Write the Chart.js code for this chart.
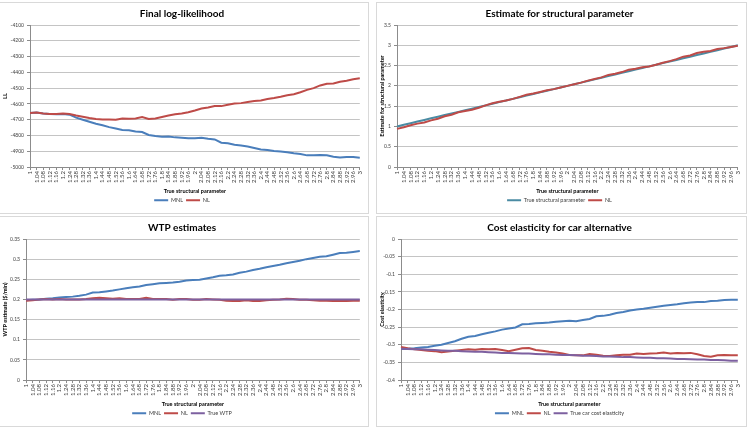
<!DOCTYPE html>
<html>
<head>
<meta charset="utf-8">
<script src="https://cdn.jsdelivr.net/npm/chart.js@4.4.1/dist/chart.umd.min.js"></script>
<style>
  body { margin: 0; background: #fff; width: 750px; height: 427px; overflow: hidden; position: relative; }
  .panel { position: absolute; border: 1px solid #d9d9d9; background: #fff; }
  .panel canvas { display: block; }
</style>
</head>
<body>
<div class="panel" style="left:-1px; top:2px; width:368px; height:210px;"><canvas id="cLL" width="368" height="210"></canvas></div>
<div class="panel" style="left:376px; top:2px; width:369px; height:210px;"><canvas id="cEst" width="369" height="210"></canvas></div>
<div class="panel" style="left:-1px; top:216px; width:368px; height:209px;"><canvas id="cWtp" width="368" height="209"></canvas></div>
<div class="panel" style="left:376px; top:216px; width:369px; height:209px;"><canvas id="cEl" width="369" height="209"></canvas></div>
<script>
// Categorias del eje x (parametro estructural verdadero)
const cats = ["1", "1.04", "1.08", "1.12", "1.16", "1.2", "1.24", "1.28", "1.32", "1.36",
  "1.4", "1.44", "1.48", "1.52", "1.56", "1.6", "1.64", "1.68", "1.72", "1.76",
  "1.8", "1.84", "1.88", "1.92", "1.96", "2", "2.04", "2.08", "2.12", "2.16",
  "2.2", "2.24", "2.28", "2.32", "2.36", "2.4", "2.44", "2.48", "2.52", "2.56",
  "2.6", "2.64", "2.68", "2.72", "2.76", "2.8", "2.84", "2.88", "2.92", "2.96", "3"];

// Final log-likelihood
const llMNL = [-4657, -4655, -4661, -4664, -4666, -4664, -4668, -4687, -4700, -4713,
  -4726, -4735, -4747, -4756, -4765, -4767, -4775, -4778, -4797, -4803,
  -4808, -4806, -4812, -4814, -4818, -4818, -4814, -4821, -4825, -4846,
  -4849, -4859, -4864, -4870, -4879, -4889, -4892, -4898, -4902, -4907,
  -4913, -4917, -4926, -4926, -4924, -4926, -4935, -4939, -4937, -4937, -4941];
const llNL = [-4657, -4655, -4661, -4664, -4664, -4661, -4664, -4674, -4681, -4689,
  -4696, -4698, -4698, -4700, -4692, -4694, -4692, -4683, -4696, -4692,
  -4683, -4674, -4666, -4661, -4653, -4642, -4629, -4623, -4614, -4614,
  -4605, -4597, -4595, -4588, -4582, -4578, -4569, -4562, -4554, -4545,
  -4539, -4526, -4511, -4500, -4483, -4472, -4470, -4459, -4453, -4444, -4438];

// Estimate for structural parameter
const estTrue = [1, 1.04, 1.08, 1.12, 1.16, 1.2, 1.24, 1.28, 1.32, 1.36,
  1.4, 1.44, 1.48, 1.52, 1.56, 1.6, 1.64, 1.68, 1.72, 1.76,
  1.8, 1.84, 1.88, 1.92, 1.96, 2, 2.04, 2.08, 2.12, 2.16,
  2.2, 2.24, 2.28, 2.32, 2.36, 2.4, 2.44, 2.48, 2.52, 2.56,
  2.6, 2.64, 2.68, 2.72, 2.76, 2.8, 2.84, 2.88, 2.92, 2.96, 3];
const estNL = [0.94, 0.98, 1.03, 1.07, 1.10, 1.15, 1.19, 1.25, 1.29, 1.35,
  1.38, 1.41, 1.46, 1.52, 1.57, 1.61, 1.64, 1.68, 1.73, 1.78,
  1.81, 1.85, 1.89, 1.92, 1.96, 2.00, 2.04, 2.08, 2.13, 2.17,
  2.21, 2.27, 2.30, 2.34, 2.40, 2.42, 2.46, 2.48, 2.52, 2.57,
  2.61, 2.66, 2.72, 2.75, 2.81, 2.84, 2.86, 2.91, 2.93, 2.96, 2.99];

// WTP estimates
const wtpMNL = [0.198, 0.199, 0.200, 0.202, 0.203, 0.205, 0.206, 0.207, 0.209, 0.212,
  0.217, 0.218, 0.220, 0.222, 0.225, 0.228, 0.230, 0.232, 0.236, 0.238,
  0.240, 0.241, 0.242, 0.244, 0.247, 0.248, 0.249, 0.252, 0.255, 0.259,
  0.260, 0.262, 0.266, 0.269, 0.273, 0.276, 0.280, 0.283, 0.286, 0.290,
  0.293, 0.296, 0.300, 0.303, 0.306, 0.307, 0.311, 0.315, 0.316, 0.318, 0.320];
const wtpNL = [0.197, 0.198, 0.200, 0.201, 0.200, 0.201, 0.200, 0.200, 0.200, 0.201,
  0.203, 0.204, 0.203, 0.202, 0.203, 0.201, 0.201, 0.201, 0.204, 0.201,
  0.201, 0.201, 0.199, 0.201, 0.201, 0.199, 0.199, 0.201, 0.200, 0.199,
  0.197, 0.196, 0.196, 0.198, 0.196, 0.196, 0.198, 0.199, 0.200, 0.202,
  0.201, 0.199, 0.199, 0.198, 0.197, 0.197, 0.196, 0.197, 0.196, 0.197, 0.197];
const wtpTrue = [0.2, 0.2, 0.2, 0.2, 0.2, 0.2, 0.2, 0.2, 0.2, 0.2,
  0.2, 0.2, 0.2, 0.2, 0.2, 0.2, 0.2, 0.2, 0.2, 0.2,
  0.2, 0.2, 0.2, 0.2, 0.2, 0.2, 0.2, 0.2, 0.2, 0.2,
  0.2, 0.2, 0.2, 0.2, 0.2, 0.2, 0.2, 0.2, 0.2, 0.2,
  0.2, 0.2, 0.2, 0.2, 0.2, 0.2, 0.2, 0.2, 0.2, 0.2, 0.2];

// Cost elasticity for car alternative
const elMNL = [-0.312, -0.311, -0.310, -0.308, -0.306, -0.303, -0.300, -0.295, -0.290, -0.283,
  -0.277, -0.275, -0.270, -0.266, -0.262, -0.257, -0.254, -0.251, -0.242, -0.241,
  -0.239, -0.238, -0.237, -0.235, -0.233, -0.232, -0.233, -0.230, -0.227, -0.219,
  -0.218, -0.215, -0.210, -0.207, -0.203, -0.200, -0.198, -0.195, -0.192, -0.189,
  -0.187, -0.185, -0.182, -0.180, -0.179, -0.179, -0.176, -0.175, -0.173, -0.172, -0.172];
const elNL = [-0.306, -0.310, -0.313, -0.315, -0.317, -0.318, -0.321, -0.319, -0.317, -0.315,
  -0.313, -0.314, -0.312, -0.313, -0.312, -0.315, -0.318, -0.314, -0.310, -0.309,
  -0.315, -0.317, -0.320, -0.322, -0.325, -0.329, -0.330, -0.330, -0.326, -0.328,
  -0.331, -0.332, -0.330, -0.328, -0.328, -0.325, -0.326, -0.325, -0.324, -0.322,
  -0.325, -0.323, -0.324, -0.323, -0.327, -0.332, -0.334, -0.330, -0.329, -0.330, -0.330];
const elTrue = [-0.311, -0.312, -0.313, -0.313, -0.314, -0.315, -0.316, -0.317, -0.317, -0.318,
  -0.319, -0.320, -0.320, -0.321, -0.322, -0.323, -0.323, -0.324, -0.325, -0.325,
  -0.326, -0.327, -0.327, -0.328, -0.329, -0.329, -0.330, -0.331, -0.331, -0.332,
  -0.333, -0.333, -0.334, -0.335, -0.335, -0.336, -0.337, -0.337, -0.338, -0.338,
  -0.339, -0.340, -0.340, -0.341, -0.342, -0.342, -0.343, -0.343, -0.344, -0.345, -0.345];

const AZUL = "#4a7ebb";
const ROJO = "#be4b48";
const MORADO = "#7d60a0";
const TEAL = "#4a8ba3";
const FUENTE = "Lato, 'Liberation Sans', sans-serif";

function serie(label, data, color, orden) {
  return {
    label: label,
    data: data,
    borderColor: color,
    backgroundColor: color,
    borderWidth: 2,
    pointRadius: 0,
    tension: 0,
    order: orden
  };
}

function crearGrafica(canvasId, titulo, tituloY, yMin, yMax, yPaso, series, anchoY) {
  let ctx = document.getElementById(canvasId).getContext("2d");
  return new Chart(ctx, {
    type: "line",
    data: { labels: cats, datasets: series },
    options: {
      responsive: false,
      animation: false,
      events: [],
      layout: { padding: { top: 0, right: 6, bottom: 0, left: 2 } },
      plugins: {
        title: {
          display: true,
          text: titulo,
          color: "#000",
          font: { family: FUENTE, size: 10, weight: "bold" },
          padding: { top: 5, bottom: 5 }
        },
        legend: {
          position: "bottom",
          labels: {
            color: "#404040",
            font: { family: FUENTE, size: 5.5 },
            usePointStyle: true,
            pointStyle: "line",
            pointStyleWidth: 14,
            boxHeight: 5,
            padding: 3,
            sort: (a, b) => a.datasetIndex - b.datasetIndex
          }
        },
        tooltip: { enabled: false }
      },
      scales: {
        x: {
          grid: { display: true, drawOnChartArea: false, drawTicks: true, tickLength: 3, color: "#8c8c8c" },
          border: { color: "#8c8c8c" },
          ticks: {
            autoSkip: false, minRotation: 90, maxRotation: 90, padding: 1,
            color: "#404040", font: { family: FUENTE, size: 6 }
          },
          title: {
            display: true, text: "True structural parameter", color: "#000",
            font: { family: FUENTE, size: 5.5, weight: "bold" }, padding: { top: 4, bottom: 0 }
          }
        },
        y: {
          min: yMin, max: yMax,
          afterFit: function (scale) { scale.width = anchoY; },
          grid: { color: "#c4c4c4", tickLength: 3, tickColor: "#8c8c8c" },
          border: { color: "#8c8c8c" },
          ticks: {
            stepSize: yPaso, padding: 3, color: "#404040",
            font: { family: FUENTE, size: 5 },
            callback: v => String(+v.toFixed(2))
          },
          title: {
            display: true, text: tituloY, color: "#000",
            font: { family: FUENTE, size: 5.5, weight: "bold" }, padding: { top: 0, bottom: 2 }
          }
        }
      }
    }
  });
}

crearGrafica("cLL", "Final log-likelihood", "LL", -5000, -4100, 100,
  [serie("MNL", llMNL, AZUL, 2), serie("NL", llNL, ROJO, 1)], 28);
crearGrafica("cEst", "Estimate for structural parameter", "Estimate for structural parameter", 0, 3.5, 0.5,
  [serie("True structural parameter", estTrue, TEAL, 2), serie("NL", estNL, ROJO, 1)], 18);
crearGrafica("cWtp", "WTP estimates", "WTP estimate ($/min)", 0, 0.35, 0.05,
  [serie("MNL", wtpMNL, AZUL, 3), serie("NL", wtpNL, ROJO, 2), serie("True WTP", wtpTrue, MORADO, 1)], 24);
crearGrafica("cEl", "Cost elasticity for car alternative", "Cost elasticity", -0.4, 0, 0.05,
  [serie("MNL", elMNL, AZUL, 3), serie("NL", elNL, ROJO, 2), serie("True car cost elasticity", elTrue, MORADO, 1)], 22);
</script>
</body>
</html>
